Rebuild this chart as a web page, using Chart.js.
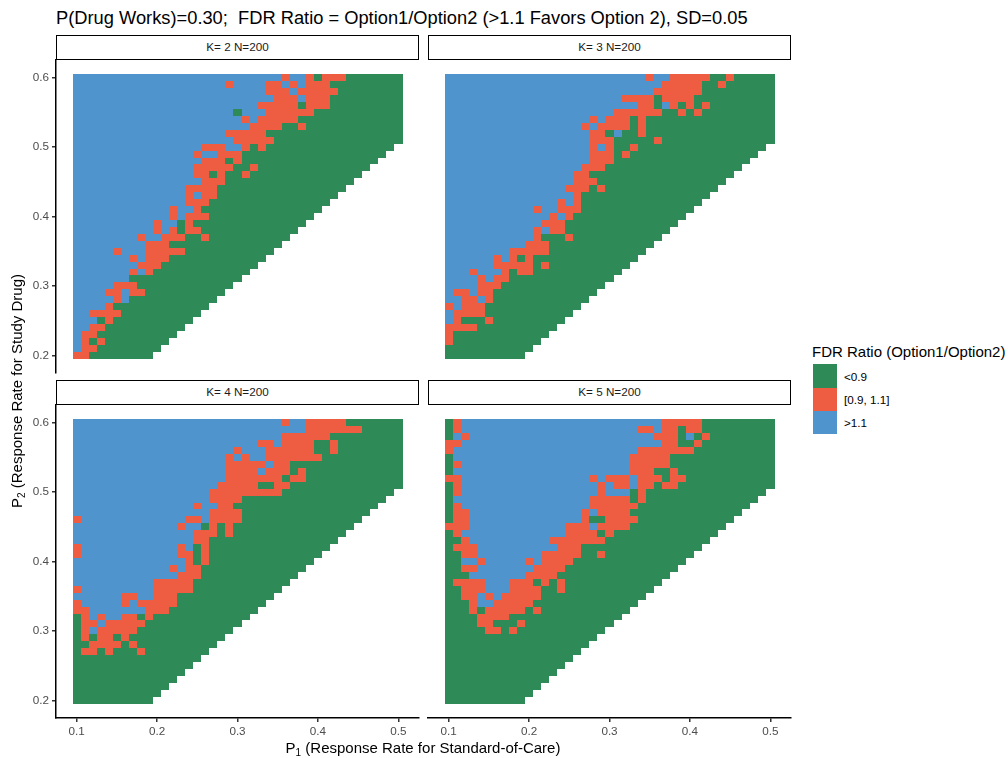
<!DOCTYPE html>
<html>
<head>
<meta charset="utf-8">
<script src="https://cdn.jsdelivr.net/npm/chart.js@4.4.1/dist/chart.umd.min.js"></script>
<style>
  body { margin: 0; width: 1008px; height: 758px; background: #fff; position: relative; overflow: hidden;
         font-family: "Liberation Sans", Arial, sans-serif; }
  canvas { position: absolute; }
  .strip { position: absolute; box-sizing: border-box; border: 1.5px solid #000; background: #fff;
           width: 363px; height: 25px; line-height: 22px; text-align: center; font-size: 11.7px; color: #1a1a1a; z-index: 2; }
  .txt { position: absolute; line-height: 1; white-space: pre; }
  .key { position: absolute; left: 813px; width: 23.5px; height: 23.4px; }
</style>
</head>
<body>
<div class="txt" style="left:56px; top:9px; font-size:18.3px; color:#000;">P(Drug Works)=0.30;  FDR Ratio = Option1/Option2 (&gt;1.1 Favors Option 2), SD=0.05</div>

<canvas id="k2" width="430" height="333" style="left:0px; top:50px;"></canvas>
<canvas id="k3" width="430" height="333" style="left:372px; top:50px;"></canvas>
<canvas id="k4" width="430" height="363" style="left:0px; top:395px;"></canvas>
<canvas id="k5" width="430" height="363" style="left:372px; top:395px;"></canvas>

<div class="strip" id="s0" style="left:56px; top:35px;"></div>
<div class="strip" id="s1" style="left:428px; top:35px;"></div>
<div class="strip" id="s2" style="left:56px; top:380px;"></div>
<div class="strip" id="s3" style="left:428px; top:380px;"></div>

<div class="txt" style="left:273px; top:740px; width:300px; text-align:center; font-size:15px;">P<sub style="font-size:10px; vertical-align:-3px;">1</sub> (Response Rate for Standard-of-Care)</div>
<div class="txt" style="left:-132px; top:382px; width:300px; text-align:center; font-size:15px; transform:rotate(-90deg);">P<sub style="font-size:10px; vertical-align:-3px;">2</sub> (Response Rate for Study Drug)</div>

<div class="txt" style="left:812px; top:344px; font-size:15px;">FDR Ratio (Option1/Option2)</div>
<div id="legend"></div>

<script>
const p1Values = [0.10, 0.11, 0.12, 0.13, 0.14, 0.15, 0.16, 0.17, 0.18, 0.19, 0.20, 0.21, 0.22, 0.23, 0.24, 0.25, 0.26, 0.27, 0.28, 0.29, 0.30,
                  0.31, 0.32, 0.33, 0.34, 0.35, 0.36, 0.37, 0.38, 0.39, 0.40, 0.41, 0.42, 0.43, 0.44, 0.45, 0.46, 0.47, 0.48, 0.49, 0.50];
const p2Values = [0.60, 0.59, 0.58, 0.57, 0.56, 0.55, 0.54, 0.53, 0.52, 0.51, 0.50, 0.49, 0.48, 0.47, 0.46, 0.45, 0.44, 0.43, 0.42, 0.41, 0.40,
                  0.39, 0.38, 0.37, 0.36, 0.35, 0.34, 0.33, 0.32, 0.31, 0.30, 0.29, 0.28, 0.27, 0.26, 0.25, 0.24, 0.23, 0.22, 0.21, 0.20];
const xTicks = [0.1, 0.2, 0.3, 0.4, 0.5];
const yTicks = [0.2, 0.3, 0.4, 0.5, 0.6];
const panelLabels = ['K= 2 N=200', 'K= 3 N=200', 'K= 4 N=200', 'K= 5 N=200'];
const ratioCodes = ['g', 'r', 'b'];
const ratioLabels = ['<0.9', '[0.9, 1.1]', '>1.1'];
const ratioColors = ['#2E8B57', '#EE5C42', '#4F94CD'];

// each row is one P2 value (0.60 down to 0.20), runs of categories along P1 starting at 0.10
const k2Rows = [
  'b26 r1 b2 r1 g1 r3 g7', 'b19 r1 b4 r2 b1 r1 b1 r3 g9', 'b24 r3 b1 r5 g8', 'b25 r3 b1 r3 g9',
  'b23 r5 g1 r3 g9', 'b20 g1 b3 r6 g11', 'b21 r1 b1 r5 g13', 'b22 r4 g2 r1 g12',
  'b19 r5 g17', 'b20 r5 g16', 'b16 r3 b2 r1 g1 r1 g16', 'b15 r1 b2 r3 g18',
  'b16 r3 g1 r1 g17', 'b15 r5 g2 r1 g14', 'b15 r2 g1 r1 g2 r1 g14', 'b16 r3 g16',
  'b14 r4 g16', 'b14 r1 b1 r2 g15', 'b14 r3 g15', 'b12 r1 b2 r1 g15',
  'b12 r1 b1 r3 g13', 'b10 r1 b2 g1 r1 g14', 'b10 r1 b1 r1 g1 r2 g12', 'b8 r1 b2 r3 g2 r1 g10',
  'b9 r3 g14', 'b5 r1 b3 r5 g11', 'b7 r1 b1 r3 g12', 'b8 r3 g12',
  'b7 r1 b1 r1 g12', 'b7 g14', 'b5 r3 g12', 'b4 r2 b1 r2 g10',
  'b5 r1 b1 g11', 'b4 r1 g12', 'b2 r4 g10', 'b3 g1 r1 g10',
  'b2 r2 g10', 'b1 r2 g10', 'b1 r1 g1 r1 g8', 'b1 r2 g8', 'r2 g8'
];
const k3Rows = [
  'b25 r1 b2 r5 g2 r1 g5', 'b27 r5 g2 r1 g6', 'b26 r6 g9', 'b22 r4 g1 r4 g10',
  'b24 r2 g1 b1 r1 g1 r1 g1 r1 g8', 'b21 r6 g2 r1 g1 r1 g9', 'b18 r1 b1 r3 g1 r1 g16', 'b17 r1 b1 r4 g1 r1 g16',
  'b18 r2 g1 b1 g2 r1 g16', 'b18 r3 g5 r1 g14', 'b18 r1 b1 r1 g2 r1 g16', 'b18 r3 g1 r1 g16',
  'b18 r3 g17', 'b17 r3 g17', 'b16 r2 g18', 'b16 r3 g16',
  'b15 r3 g1 r1 g14', 'b16 r1 g16', 'b14 r1 b1 r1 g15', 'b11 r1 b2 r3 g14',
  'b13 r1 b1 r1 g14', 'b12 r3 g14', 'b11 r1 b1 r2 g13', 'b11 r1 g3 r1 g11',
  'b10 r3 g13', 'b8 r5 g12', 'b6 r1 b1 r1 g1 r1 g13', 'b6 r5 g1 r1 g10',
  'b3 r1 b3 r1 g1 r2 g11', 'b4 r1 b1 r2 g13', 'b4 r3 g13', 'b1 r2 b1 r2 g13',
  'b2 r2 b1 r1 g12', 'r1 b1 r3 g12', 'b1 r4 g11', 'b1 r1 g3 r1 g9',
  'r4 g10', 'r1 g12', 'r1 g11', 'g11', 'g10'
];
const k4Rows = [
  'b26 r1 b2 r5 g7', 'b29 r7 g5', 'b26 r6 g9', 'b23 r2 b1 r4 g2 r1 g8',
  'b20 r1 b3 r6 g2 r1 g8', 'b19 r1 b1 r1 b2 r7 g10', 'b19 r5 b1 r2 g14', 'b19 r4 b1 r3 g1 r1 g12',
  'b19 r7 g1 r2 g12', 'b18 r5 g2 r2 g14', 'b17 r9 g14', 'b17 r4 g18',
  'b15 r1 b2 r2 g18', 'b17 r4 g16', 'r1 b13 r2 b1 r4 g15', 'b13 r1 b2 g1 r1 g1 r1 g15',
  'b15 r3 g1 r1 g14', 'b15 r2 g16', 'r1 b12 r1 b1 g1 r1 g15', 'r1 b12 r2 g1 r1 g14',
  'b14 r1 g1 r1 g13', 'b12 r1 b1 r2 g13', 'b13 r3 g12', 'b10 r5 g12',
  'r1 b9 r5 g11', 'b6 r2 b2 r3 g12', 'r1 b5 r1 b1 r5 g11', 'r2 b7 r3 g11',
  'g1 r1 b1 r1 b2 r2 g1 r1 g12', 'g1 r2 b1 r5 g12', 'g1 r1 b1 r5 g12', 'g1 r1 g1 r2 g1 r1 g12',
  'g2 r4 g1 r1 g10', 'g1 r2 g1 r1 g3 r1 g8', 'g16', 'g15',
  'g14', 'g13', 'g12', 'g11', 'g10'
];
const k5Rows = [
  'g1 r1 b25 r5 g9', 'g1 r1 b22 r2 b1 r2 g1 r2 g9', 'g1 b1 r1 b23 r3 g1 b1 g1 r1 g8', 'r2 b25 r2 g2 r1 g9',
  'r1 b23 r7 g10', 'g1 b22 r5 g13', 'g1 r1 b21 r5 g13', 'g1 b22 r3 g2 r1 g12',
  'r2 b16 r1 b1 r3 b1 r3 g1 r2 g11', 'g1 r1 b17 r1 b1 r2 b1 r2 g1 r2 g12', 'g1 r1 b17 r1 b3 g1 r1 g15', 'g1 b17 r5 g1 r1 g14',
  'g1 r1 b16 r6 g14', 'g1 r2 b14 r1 b1 r4 g14', 'g1 r2 b14 r1 g2 r4 g12', 'r3 b12 r3 b1 r4 g12',
  'g1 r1 b13 r4 g1 r1 g13', 'g2 r1 b10 r7 g13', 'g1 r3 b10 r3 g15', 'g2 r2 b8 r5 g2 r1 g11',
  'g2 b2 r1 b5 r1 b1 r4 g14', 'g2 r2 b7 r4 g14', 'g3 b7 r4 g14', 'g1 r4 b3 r3 g1 r1 g1 r1 g12',
  'g2 r3 b3 r4 g2 r1 g11', 'g2 r2 b1 r1 b1 r5 g13', 'g3 r1 b2 r5 g13', 'g3 r1 g1 r5 g1 r1 g11',
  'g4 r4 g14', 'g4 r2 g3 r1 g11', 'g5 r2 g1 r1 g11', 'g19',
  'g18', 'g17', 'g16', 'g15', 'g14', 'g13', 'g12', 'g11', 'g10'
];

Chart.defaults.font.family = '"Liberation Sans", Arial, sans-serif';

function buildDatasets(rows) {
  const sets = ratioCodes.map((code, i) => ({
    label: ratioLabels[i],
    data: [],
    backgroundColor: ratioColors[i],
    pointRadius: 0,
    pointHoverRadius: 0,
  }));
  rows.forEach((row, i) => {
    let col = 0;
    row.split(' ').forEach(run => {
      const k = ratioCodes.indexOf(run[0]);
      const n = parseInt(run.slice(1), 10);
      for (let j = 0; j < n; j++) {
        sets[k].data.push({ x: p1Values[col], y: p2Values[i] });
        col++;
      }
    });
  });
  return sets;
}

// draws each point as a 0.01 x 0.01 tile through the chart scales
const tilePlugin = {
  id: 'tiles',
  beforeDatasetsDraw(chart) {
    const { ctx } = chart;
    const xs = chart.scales.x;
    const ys = chart.scales.y;
    ctx.save();
    chart.data.datasets.forEach(ds => {
      ctx.fillStyle = ds.backgroundColor;
      ds.data.forEach(p => {
        const l = Math.round(xs.getPixelForValue(p.x - 0.005));
        const r = Math.round(xs.getPixelForValue(p.x + 0.005));
        const t = Math.round(ys.getPixelForValue(p.y + 0.005));
        const b = Math.round(ys.getPixelForValue(p.y - 0.005));
        ctx.fillRect(l, t, r - l, b - t);
      });
    });
    ctx.restore();
  },
};

function makeChart(id, rows, bottom, left) {
  new Chart(document.getElementById(id), {
    type: 'scatter',
    data: { datasets: buildDatasets(rows) },
    options: {
      responsive: false,
      animation: false,
      devicePixelRatio: 1,
      events: [],
      layout: { padding: { top: 10, right: 11, bottom: bottom ? 0 : 10, left: 0 } },
      plugins: { legend: { display: false }, tooltip: { enabled: false } },
      scales: {
        x: {
          type: 'linear',
          min: 0.0745,
          max: 0.5255,
          display: bottom,
          afterBuildTicks: s => { s.ticks = xTicks.map(v => ({ value: v })); },
          afterFit: s => { if (bottom) s.height = 40; },
          grid: { drawOnChartArea: false, tickLength: 4, color: '#333', lineWidth: 1.5 },
          border: { color: '#000', width: 1.5 },
          ticks: { padding: 3, color: '#4d4d4d', font: { size: 11.7 }, maxRotation: 0, callback: v => v.toFixed(1) },
        },
        y: {
          type: 'linear',
          min: 0.1745,
          max: 0.6255,
          afterBuildTicks: s => { s.ticks = yTicks.map(v => ({ value: v })); },
          afterFit: s => { s.width = 56; },
          grid: { display: left, drawOnChartArea: false, tickLength: 4, color: '#333', lineWidth: 1.5 },
          border: { display: left, color: '#000', width: 1.5 },
          ticks: { display: left, padding: 3, color: '#4d4d4d', font: { size: 11.7 }, callback: v => v.toFixed(1) },
        },
      },
    },
    plugins: [tilePlugin],
  });
}

makeChart('k2', k2Rows, false, true);
makeChart('k3', k3Rows, false, false);
makeChart('k4', k4Rows, true, true);
makeChart('k5', k5Rows, true, false);

panelLabels.forEach((t, i) => { document.getElementById('s' + i).textContent = t; });

const legend = document.getElementById('legend');
ratioLabels.forEach((t, i) => {
  const key = document.createElement('div');
  key.className = 'key';
  key.style.top = (364.3 + i * 23.4) + 'px';
  key.style.background = ratioColors[i];
  legend.appendChild(key);
  const lab = document.createElement('div');
  lab.className = 'txt';
  lab.style.left = '844px';
  lab.style.top = (370.5 + i * 23.4) + 'px';
  lab.style.fontSize = '11.7px';
  lab.textContent = t;
  legend.appendChild(lab);
});
</script>
</body>
</html>
